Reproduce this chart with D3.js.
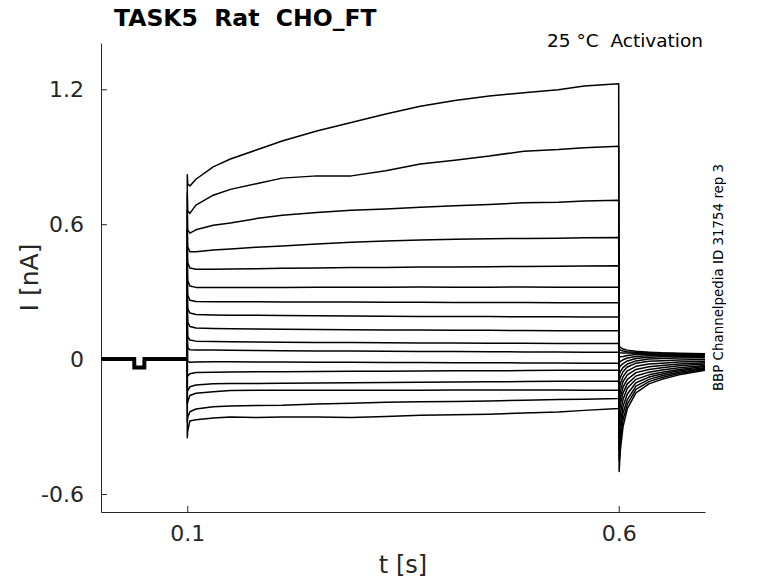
<!DOCTYPE html>
<html>
<head>
<meta charset="utf-8">
<script src="https://cdn.jsdelivr.net/npm/d3@7"></script>
<style>
  body { margin: 0; background: #fff; }
  #chart { width: 778px; height: 583px; }
  text { font-family: "DejaVu Sans", sans-serif; }
</style>
</head>
<body>
<div id="chart"></div>
<script>
// ---- data (time in s, current in nA) ----
const baseTimes = [0, 0.0385, 0.0386, 0.0502, 0.0503, 0.1];
const baseCurrent = [0, 0, -0.037, -0.037, 0, 0];

// capacitive spike value at the step onset, one per sweep (top to bottom)
const spikeCurrents = [0.82, 0.74, 0.66, 0.58, 0.5, 0.43, 0.36, 0.29, 0.22, 0.15, 0.08, 0.01, -0.06, -0.13, -0.2, -0.28, -0.35];

const stepTimes = [0.1005, 0.103, 0.11, 0.13, 0.15, 0.18, 0.21, 0.25, 0.29, 0.33, 0.37, 0.41, 0.45, 0.49, 0.53, 0.56, 0.6];
const stepCurrents = [
  [0.78, 0.77, 0.80, 0.855, 0.89, 0.93, 0.97, 1.015, 1.052, 1.09, 1.125, 1.15, 1.17, 1.185, 1.198, 1.215, 1.225],
  [0.66, 0.648, 0.685, 0.729, 0.755, 0.78, 0.805, 0.815, 0.815, 0.838, 0.868, 0.885, 0.903, 0.925, 0.932, 0.94, 0.947],
  [0.575, 0.56, 0.575, 0.595, 0.605, 0.625, 0.64, 0.652, 0.662, 0.668, 0.675, 0.682, 0.688, 0.695, 0.698, 0.703, 0.707],
  [0.5, 0.477, 0.478, 0.485, 0.49, 0.498, 0.503, 0.512, 0.52, 0.525, 0.53, 0.533, 0.535, 0.537, 0.538, 0.54, 0.541],
  [0.43, 0.405, 0.4, 0.4, 0.401, 0.402, 0.404, 0.405, 0.407, 0.408, 0.41, 0.41, 0.411, 0.412, 0.413, 0.414, 0.415],
  [0.35, 0.325, 0.319, 0.318, 0.318, 0.319, 0.319, 0.32, 0.32, 0.32, 0.321, 0.32, 0.32, 0.321, 0.32, 0.32, 0.32],
  [0.285, 0.262, 0.256, 0.255, 0.255, 0.255, 0.254, 0.254, 0.254, 0.253, 0.253, 0.252, 0.252, 0.252, 0.251, 0.251, 0.251],
  [0.225, 0.205, 0.198, 0.196, 0.195, 0.195, 0.194, 0.193, 0.192, 0.191, 0.19, 0.19, 0.189, 0.188, 0.188, 0.187, 0.187],
  [0.165, 0.145, 0.138, 0.136, 0.135, 0.134, 0.133, 0.132, 0.131, 0.13, 0.129, 0.128, 0.128, 0.127, 0.126, 0.126, 0.126],
  [0.1, 0.085, 0.08, 0.078, 0.077, 0.076, 0.075, 0.074, 0.074, 0.073, 0.072, 0.072, 0.071, 0.071, 0.07, 0.07, 0.07],
  [0.05, 0.042, 0.04, 0.04, 0.039, 0.038, 0.037, 0.036, 0.036, 0.035, 0.034, 0.034, 0.033, 0.032, 0.032, 0.031, 0.031],
  [-0.01, -0.014, -0.013, -0.012, -0.012, -0.013, -0.013, -0.014, -0.014, -0.015, -0.015, -0.016, -0.016, -0.017, -0.017, -0.018, -0.018],
  [-0.075, -0.065, -0.06, -0.058, -0.057, -0.056, -0.056, -0.055, -0.054, -0.054, -0.053, -0.052, -0.052, -0.051, -0.05, -0.05, -0.049],
  [-0.14, -0.123, -0.115, -0.11, -0.108, -0.108, -0.107, -0.106, -0.105, -0.104, -0.103, -0.102, -0.101, -0.1, -0.099, -0.098, -0.098],
  [-0.19, -0.162, -0.152, -0.145, -0.14, -0.139, -0.139, -0.138, -0.138, -0.138, -0.138, -0.137, -0.137, -0.137, -0.137, -0.138, -0.138],
  [-0.26, -0.234, -0.222, -0.212, -0.208, -0.206, -0.205, -0.2, -0.196, -0.192, -0.19, -0.188, -0.186, -0.183, -0.18, -0.178, -0.175],
  [-0.32, -0.275, -0.27, -0.262, -0.258, -0.26, -0.258, -0.258, -0.26, -0.255, -0.25, -0.248, -0.245, -0.24, -0.235, -0.228, -0.22]
];

const tailTimes = [0.6005, 0.602, 0.605, 0.61, 0.62, 0.635, 0.65, 0.67, 0.7];
const tailCurrents = [
  [-0.5, -0.4, -0.3, -0.22, -0.15, -0.11, -0.09, -0.07, -0.05],
  [-0.45, -0.36, -0.27, -0.2, -0.135, -0.1, -0.082, -0.064, -0.046],
  [-0.4, -0.32, -0.24, -0.18, -0.12, -0.09, -0.074, -0.058, -0.042],
  [-0.35, -0.28, -0.21, -0.155, -0.105, -0.08, -0.066, -0.052, -0.038],
  [-0.3, -0.24, -0.18, -0.13, -0.09, -0.07, -0.058, -0.046, -0.033],
  [-0.26, -0.2, -0.15, -0.11, -0.075, -0.058, -0.048, -0.038, -0.028],
  [-0.22, -0.17, -0.125, -0.09, -0.06, -0.046, -0.038, -0.03, -0.022],
  [-0.18, -0.14, -0.1, -0.07, -0.046, -0.034, -0.028, -0.022, -0.016],
  [-0.14, -0.11, -0.078, -0.052, -0.032, -0.022, -0.018, -0.013, -0.009],
  [-0.1, -0.08, -0.056, -0.035, -0.018, -0.01, -0.007, -0.004, -0.002],
  [-0.07, -0.055, -0.038, -0.022, -0.008, 0.0, 0.003, 0.005, 0.006],
  [-0.04, -0.03, -0.02, -0.008, 0.003, 0.008, 0.01, 0.011, 0.011],
  [-0.015, -0.01, -0.003, 0.005, 0.012, 0.015, 0.016, 0.016, 0.015],
  [0.01, 0.01, 0.012, 0.016, 0.02, 0.021, 0.021, 0.02, 0.018],
  [0.03, 0.028, 0.027, 0.027, 0.026, 0.025, 0.024, 0.022, 0.02],
  [0.045, 0.04, 0.036, 0.033, 0.03, 0.028, 0.026, 0.024, 0.022],
  [0.06, 0.052, 0.045, 0.04, 0.035, 0.031, 0.028, 0.026, 0.024]
];

const xTicks = [0.1, 0.6];
const yTicks = [-0.6, 0, 0.6, 1.2];

class TraceVis {
  constructor(parentElement) {
    this.parentElement = parentElement;
    this.initVis();
  }

  initVis() {
    let vis = this;
    vis.width = 778;
    vis.height = 583;
    // plot box in page pixels
    vis.box = { left: 101, right: 705, top: 43, bottom: 512 };

    vis.svg = d3.select("#" + vis.parentElement)
      .append("svg")
      .attr("width", vis.width)
      .attr("height", vis.height);

    vis.x = d3.scaleLinear().domain([0, 0.7]).range([vis.box.left, vis.box.right]);
    vis.y = d3.scaleLinear().domain([-0.68, 1.406]).range([vis.box.bottom, vis.box.top]);

    vis.line = d3.line()
      .x(d => vis.x(d[0]))
      .y(d => vis.y(d[1]));

    vis.wrangleData();
  }

  wrangleData() {
    let vis = this;
    // one polyline per sweep: onset at 0, spike, step, then the tail
    vis.sweeps = stepCurrents.map((row, i) => {
      let pts = [[0.1, 0], [0.1, spikeCurrents[i]]];
      stepTimes.forEach((t, j) => pts.push([t, row[j]]));
      tailTimes.forEach((t, j) => pts.push([t, tailCurrents[i][j]]));
      return pts;
    });
    vis.baseline = baseTimes.map((t, j) => [t, baseCurrent[j]]);
    vis.updateVis();
  }

  updateVis() {
    let vis = this;
    const fmt = d => (d === 0 ? "0" : String(d));
    const axisColor = "#262626";

    // axes (MATLAB style: inward ticks, no box)
    let yAxis = vis.svg.append("g")
      .attr("transform", `translate(${vis.box.left},0)`)
      .call(d3.axisLeft(vis.y).tickValues(yTicks).tickFormat(fmt)
        .tickSizeInner(-6).tickSizeOuter(0).tickPadding(17));
    let xAxis = vis.svg.append("g")
      .attr("transform", `translate(0,${vis.box.bottom})`)
      .call(d3.axisBottom(vis.x).tickValues(xTicks).tickFormat(fmt)
        .tickSizeInner(-6).tickSizeOuter(0).tickPadding(13));

    [xAxis, yAxis].forEach(g => {
      g.select(".domain").attr("stroke", axisColor).attr("stroke-width", 1);
      g.selectAll(".tick line").attr("stroke", axisColor);
      g.selectAll(".tick text")
        .attr("fill", axisColor)
        .style("font-family", "DejaVu Sans")
        .style("font-size", "22px");
    });

    // pre-step baseline (all sweeps overlapping, noisy band)
    vis.svg.append("path")
      .datum(vis.baseline)
      .attr("d", vis.line)
      .attr("fill", "none")
      .attr("stroke", "#000")
      .attr("stroke-width", 4);

    vis.svg.append("g")
      .selectAll("path")
      .data(vis.sweeps)
      .join("path")
      .attr("d", vis.line)
      .attr("fill", "none")
      .attr("stroke", "#000")
      .attr("stroke-width", 1.5)
      .attr("stroke-linejoin", "round");

    // labels
    vis.svg.append("text")
      .attr("x", (vis.box.left + vis.box.right) / 2)
      .attr("y", 573)
      .attr("text-anchor", "middle")
      .attr("fill", axisColor)
      .style("font-size", "24px")
      .text("t [s]");

    vis.svg.append("text")
      .attr("transform", `translate(38,${(vis.box.top + vis.box.bottom) / 2}) rotate(-90)`)
      .attr("text-anchor", "middle")
      .attr("fill", axisColor)
      .style("font-size", "25px")
      .text("I [nA]");

    vis.svg.append("text")
      .attr("x", 114)
      .attr("y", 26)
      .attr("fill", "#000")
      .style("font-size", "23.5px")
      .style("font-weight", "bold")
      .style("white-space", "pre")
      .text("TASK5  Rat  CHO_FT");

    vis.svg.append("text")
      .attr("x", 703)
      .attr("y", 47)
      .attr("text-anchor", "end")
      .attr("fill", "#000")
      .style("font-size", "18.5px")
      .style("white-space", "pre")
      .text("25 °C  Activation");

    vis.svg.append("text")
      .attr("transform", `translate(723,${(vis.box.top + vis.box.bottom) / 2}) rotate(-90)`)
      .attr("text-anchor", "middle")
      .attr("fill", "#000")
      .style("font-size", "13.4px")
      .text("BBP Channelpedia ID 31754 rep 3");
  }
}

new TraceVis("chart");
</script>
</body>
</html>
